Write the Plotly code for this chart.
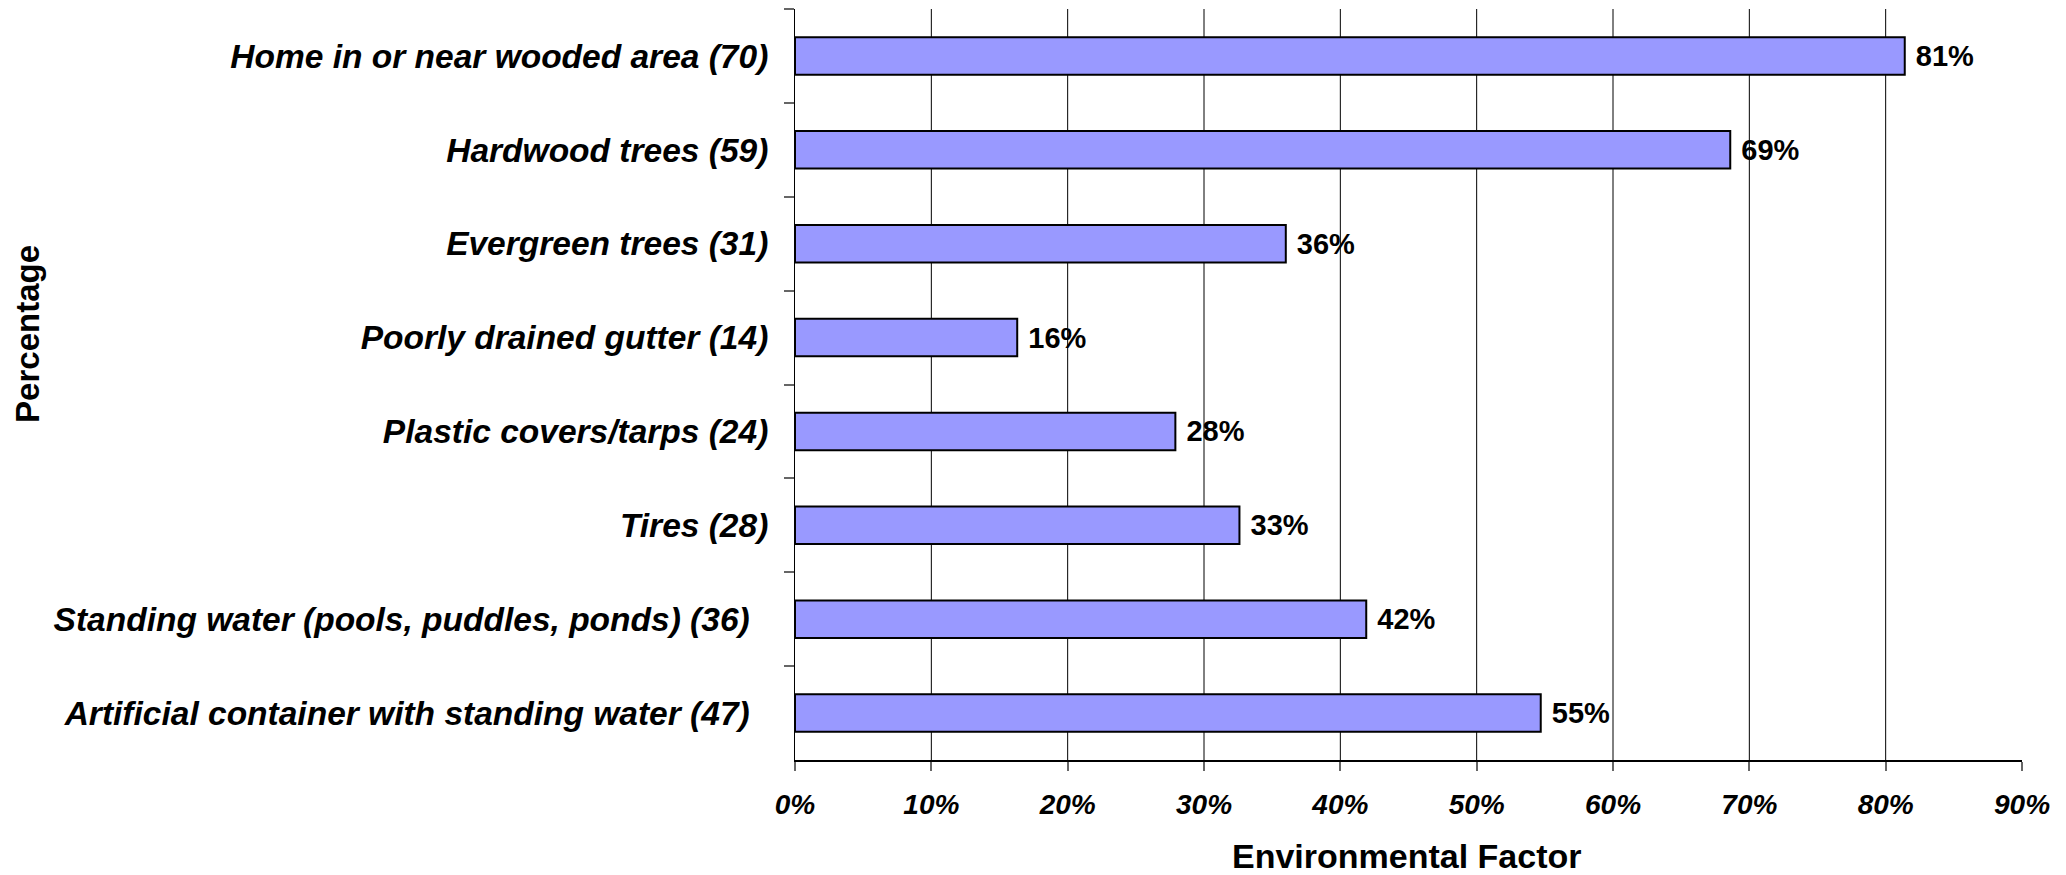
import plotly.graph_objects as go

categories = [
    "Home in or near wooded area (70)",
    "Hardwood trees (59)",
    "Evergreen trees (31)",
    "Poorly drained gutter (14)",
    "Plastic covers/tarps (24)",
    "Tires (28)",
    "Standing water (pools, puddles, ponds) (36)\u00a0\u00a0",
    "Artificial container with standing water (47)\u00a0\u00a0",
]
values = [81.4, 68.6, 36.0, 16.3, 27.9, 32.6, 41.9, 54.7]
labels = ["81%", "69%", "36%", "16%", "28%", "33%", "42%", "55%"]
x_ticks = [0, 10, 20, 30, 40, 50, 60, 70, 80, 90]
x_tick_text = ["0%", "10%", "20%", "30%", "40%", "50%", "60%", "70%", "80%", "90%"]
grid_vals = [10, 20, 30, 40, 50, 60, 70, 80]

FONT = "Liberation Sans, Arial, sans-serif"

fig = go.Figure()
fig.add_trace(go.Bar(
    x=values,
    y=categories,
    orientation="h",
    marker=dict(color="#9999FF", line=dict(color="#000000", width=2)),
    text=["\u00a0" + t for t in labels],
    textposition="outside",
    cliponaxis=False,
    textfont=dict(family=FONT, size=29, color="#000000", weight="bold"),
    hoverinfo="skip",
))

for g in grid_vals:
    fig.add_shape(type="line", xref="x", yref="paper", x0=g, x1=g, y0=0, y1=1,
                  line=dict(color="#000000", width=1), layer="below")

fig.update_layout(
    width=2058, height=867,
    margin=dict(l=786.5, r=43.5, t=1.3, b=115),
    paper_bgcolor="white", plot_bgcolor="white",
    showlegend=False,
    bargap=0.6,
    font=dict(family=FONT, color="#000000"),
    xaxis=dict(
        range=[0, 90],
        tickvals=x_ticks,
        ticktext=x_tick_text,
        showgrid=False,
        zeroline=False,
        showline=True, linecolor="#000000", linewidth=1.5,
        ticks="outside", ticklen=9, tickcolor="#666666", tickwidth=1.5,
        tickfont=dict(family=FONT, size=28, color="#000000", weight="bold", style="italic"),
        ticklabelstandoff=10,
        fixedrange=True,
    ),
    yaxis=dict(
        autorange="reversed",
        showgrid=False,
        zeroline=False,
        showline=True, linecolor="#000000", linewidth=1,
        ticks="outside", ticklen=10, tickcolor="#666666", tickwidth=1.5,
        tickson="boundaries",
        tickfont=dict(family=FONT, size=33.5, color="#000000", weight="bold", style="italic"),
        ticklabelstandoff=19,
        fixedrange=True,
    ),
    annotations=[
        dict(text="Environmental Factor", xref="paper", yref="paper", x=0.499, y=-0.1279,
             xanchor="center", yanchor="middle", showarrow=False,
             font=dict(family=FONT, size=34, color="#000000", weight="bold")),
        dict(text="Percentage", xref="paper", yref="paper", x=-0.6250, y=0.5675,
             xanchor="center", yanchor="middle", showarrow=False, textangle=-90,
             font=dict(family=FONT, size=33, color="#000000", weight="bold")),
    ],
)

fig.write_html("out.html")
